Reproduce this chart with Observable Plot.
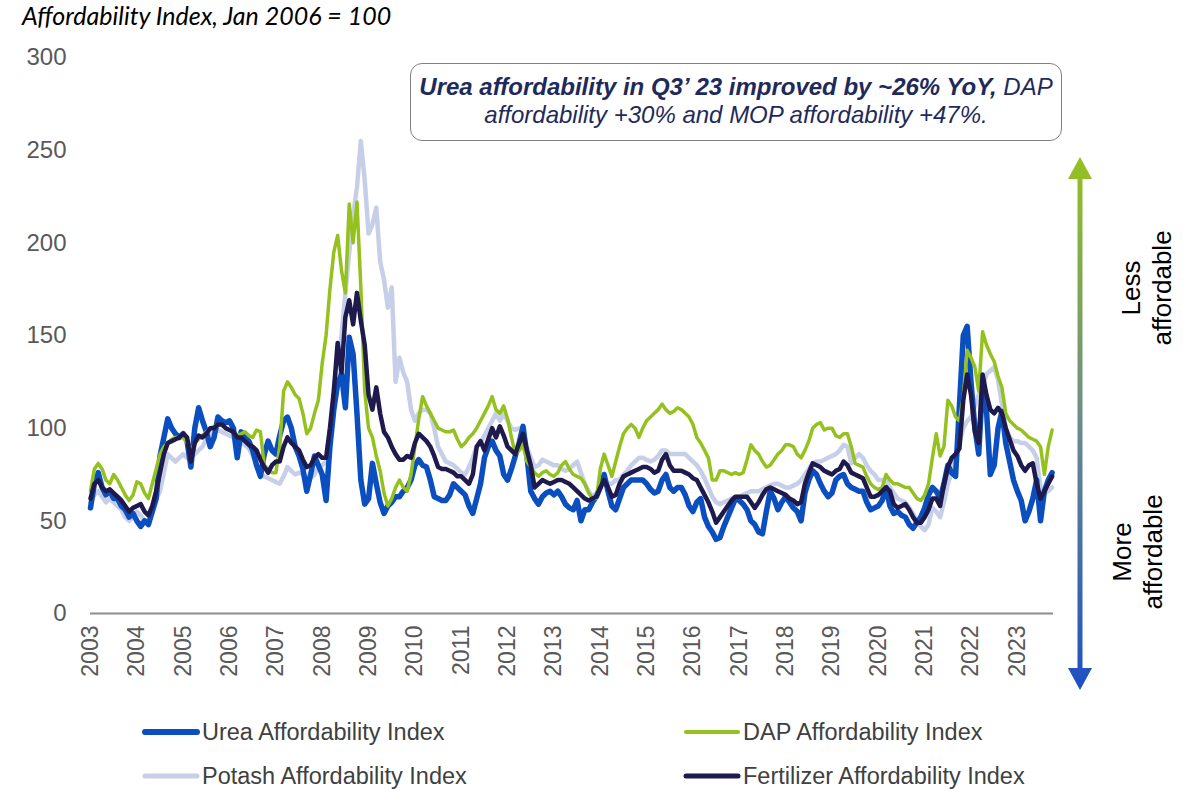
<!DOCTYPE html>
<html>
<head>
<meta charset="utf-8">
<script src="https://cdn.jsdelivr.net/npm/d3@7"></script>
<script src="https://cdn.jsdelivr.net/npm/@observablehq/plot@0.6"></script>
<style>
  html, body { margin: 0; padding: 0; background: #fff; }
  #wrap { position: relative; width: 1197px; height: 791px; overflow: hidden; font-family: "Liberation Sans", Arial, sans-serif; }
  #title { position: absolute; left: 22px; top: 0px; font-family: Lato, "Open Sans", sans-serif; font-style: italic; font-size: 25px; color: #000; white-space: nowrap; }
  #chart { position: absolute; left: 0; top: 0; }
  #note { position: absolute; left: 410px; top: 63px; width: 652px; height: 78px; border: 1.5px solid #7f7f7f; border-radius: 12px; box-sizing: border-box;
          text-align: center; font-style: italic; font-size: 24px; line-height: 28px; color: #1f2a5c; padding-top: 9px; white-space: nowrap; }
  #note b { font-weight: bold; }
</style>
</head>
<body>
<div id="wrap">
  <div id="chart"></div>
  <div id="title">Affordability Index, Jan 2006 = 100</div>
  <div id="note"><b>Urea affordability in Q3’ 23 improved by ~26% YoY,</b> DAP<br>affordability +30% and MOP affordability +47%.</div>
</div>
<script>
// Monthly values, Jan 2003 .. Oct 2023
const startYear = 2003;
const years = d3.range(2003, 2024);
const yTicks = [0, 50, 100, 150, 200, 250, 300];

const urea = [
  57, 70, 76, 68, 64, 66, 62, 62, 58, 56, 52, 54,
  50, 47, 50, 48, 55, 62, 85, 95, 105, 100, 97, 95,
  97, 93, 79, 100, 111, 104, 98, 90, 95, 106, 104, 103,
  104, 100, 84, 98, 95, 93, 88, 80, 74, 86, 93, 88,
  86, 96, 104, 106, 100, 90, 85, 78, 66, 75, 85, 80,
  75, 61, 90, 110, 124, 129, 111, 149, 140, 108, 72, 59,
  62, 81, 70, 60, 54, 58, 60, 63, 63, 66, 68, 72,
  80, 83, 80, 79, 72, 63, 62, 61, 61, 64, 70, 68,
  66, 64, 58, 54, 62, 70, 84, 90, 93, 88, 85, 75,
  72, 78, 85, 92, 101, 85, 66, 62, 59, 63, 65, 66,
  64, 66, 63, 59, 57, 56, 61, 50, 56, 56, 60, 63,
  68, 75, 66, 58, 56, 62, 68, 70, 72, 72, 72, 72,
  70, 67, 65, 66, 72, 75, 68, 66, 68, 68, 64, 58,
  55, 60, 62, 52, 47, 44, 40, 41, 47, 52, 57, 62,
  61, 59, 56, 50, 48, 44, 43, 55, 66, 62, 56, 60,
  63, 60, 57, 55, 50, 65, 72, 77, 75, 70, 66, 63,
  65, 72, 74, 75, 70, 68, 67, 66, 66, 60, 56, 57,
  58, 61, 68, 58, 54, 55, 53, 52, 48, 46, 49, 52,
  57, 64, 68, 66, 62, 70, 80, 76, 74, 112, 150, 155,
  125, 100, 86, 124, 110, 75, 80, 100, 109, 92, 82, 72,
  66, 61, 50, 55, 62, 72, 50, 66, 72, 76
];
const dap = [
  66, 78, 81, 78, 72, 70, 75, 72, 68, 64, 61, 64,
  71, 70, 65, 62, 70, 78, 86, 90, 92, 94, 95, 95,
  95, 92, 88, 92, 94, 96, 98, 100, 101, 102, 102, 100,
  99, 98, 96, 97, 98, 96, 95, 99, 98, 80, 78, 76,
  76, 90, 120, 125, 122, 118, 116, 108, 97, 100, 108, 115,
  135, 150, 175, 195, 204, 185, 173, 221, 200, 222, 176, 120,
  100, 95, 85, 77, 65, 58, 62, 68, 72, 68, 66, 75,
  90, 105, 117, 112, 108, 104, 100, 99, 98, 98, 99, 94,
  90, 92, 95, 97, 100, 104, 108, 112, 117, 110, 108, 112,
  105, 95, 86, 88, 91, 82, 79, 76, 74, 76, 77, 75,
  74, 76, 80, 82, 78, 75, 74, 73, 70, 65, 62, 62,
  78, 86, 80, 74, 82, 90, 97, 100, 102, 100, 95, 100,
  104, 106, 108, 110, 113, 110, 108, 109, 111, 110, 108, 106,
  102, 95, 92, 88, 84, 72, 72, 77, 77, 76, 75, 76,
  75, 76, 83, 91, 88, 86, 82, 79, 80, 83, 86, 88,
  91, 91, 90, 86, 84, 88, 93, 100, 102, 103, 99, 100,
  100, 96, 95, 97, 97, 90, 81, 80, 79, 74, 70, 68,
  67, 68, 75, 72, 70, 70, 69, 68, 68, 65, 62, 61,
  64, 70, 84, 97, 85, 90, 115, 112, 106, 104, 117, 142,
  138, 133, 120, 152, 145, 140, 136, 128, 122, 108, 104, 102,
  100, 99, 97, 95, 94, 93, 90, 75, 90, 99
];
const potash = [
  60, 64, 66, 63, 60, 62, 60, 58, 56, 52, 50, 52,
  55, 53, 50, 50, 54, 62, 66, 76, 86, 84, 82, 84,
  86, 84, 85, 86, 88, 90, 94, 96, 98, 99, 98, 97,
  96, 95, 94, 92, 91, 89, 85, 80, 76, 74, 73, 72,
  71, 70, 74, 79, 77, 75, 76, 75, 74, 73, 75, 79,
  80, 82, 100, 110, 130, 150, 173, 195, 215, 230, 255, 234,
  205, 210, 219, 190, 180, 165, 176, 125, 138, 130, 125, 110,
  104, 108, 110, 110, 108, 100, 90, 86, 82, 81, 80, 78,
  76, 75, 79, 84, 90, 92, 96, 100, 104, 108, 104, 108,
  104, 100, 99, 100, 99, 90, 84, 79, 80, 83, 82, 81,
  80, 80, 78, 77, 78, 80, 82, 76, 70, 66, 63, 65,
  68, 70, 70, 70, 72, 72, 75, 77, 80, 82, 84, 84,
  83, 82, 83, 85, 88, 88, 86, 86, 86, 86, 86, 84,
  82, 80, 77, 73, 68, 63, 60, 59, 60, 61, 62, 63,
  63, 64, 65, 66, 66, 66, 67, 68, 69, 70, 70, 69,
  68, 68, 69, 70, 72, 75, 78, 81, 82, 82, 83, 84,
  85, 86, 88, 91, 90, 81, 84, 86, 84, 80, 77, 75,
  72, 72, 72, 68, 65, 62, 61, 60, 57, 54, 50, 47,
  45, 48, 57, 55, 52, 60, 70, 76, 84, 92, 100, 104,
  106, 112, 118, 122, 129, 131, 133, 126, 113, 100, 95, 93,
  93, 92, 92, 90, 88, 84, 68, 65, 66, 68
];
const fertilizer = [
  62, 70, 72, 68, 66, 67, 65, 63, 61, 58, 55, 57,
  58, 59, 55, 53, 58, 66, 76, 86, 92, 93, 94, 95,
  97, 95, 82, 92, 96, 95, 97, 100, 100, 102, 102, 100,
  99, 98, 95, 95, 93, 91, 90, 88, 83, 79, 76, 80,
  82, 82, 90, 95, 92, 90, 88, 83, 79, 80, 84, 86,
  84, 84, 100, 120, 146, 130, 160, 169, 156, 173, 158, 145,
  118, 110, 122, 108, 98, 95, 90, 86, 83, 83, 85, 84,
  92, 97, 95, 93, 90, 85, 79, 78, 78, 77, 76, 74,
  74, 72, 70, 75, 90, 93, 88, 94, 100, 95, 101, 96,
  90, 88, 86, 92, 97, 88, 80, 68, 70, 72, 71, 70,
  71, 72, 72, 71, 70, 68, 66, 64, 62, 61, 62, 63,
  68, 72, 68, 63, 64, 70, 74, 75, 76, 77, 78, 79,
  79, 78, 76, 77, 83, 86, 80, 77, 77, 77, 76, 75,
  73, 72, 68, 64, 60, 55, 49, 52, 55, 58, 61, 63,
  63, 63, 63, 60, 57, 60, 64, 67, 68, 67, 66, 65,
  64, 62, 61, 59, 60, 70, 76, 81, 80, 79, 77, 76,
  75, 77, 78, 82, 80, 76, 75, 74, 73, 68, 63, 63,
  64, 66, 68, 66, 59, 57, 58, 59, 56, 52, 49, 49,
  52, 56, 62, 62, 58, 70, 79, 84, 86, 89, 115, 129,
  118, 98, 92, 129, 118, 110, 108, 111, 108, 100, 94, 88,
  85, 80, 77, 80, 81, 70, 62, 66, 70, 74
];

const seriesNames = ["Urea Affordability Index", "DAP Affordability Index", "Potash Affordability Index", "Fertilizer Affordability Index"];
const seriesColors = ["#0a4ec0", "#95c11f", "#c7cfe8", "#1f1a4d"];
const seriesWidths = [5.5, 3.5, 4.5, 4.5];
const seriesValues = [urea, dap, potash, fertilizer];
const drawOrder = [2, 0, 1, 3];

function rows(k) {
  return seriesValues[k].map((v, i) => ({t: startYear + i / 12, v}));
}

const chart = Plot.plot({
  width: 1197,
  height: 700,
  marginLeft: 90,
  marginRight: 144,
  marginTop: 57,
  marginBottom: 87,
  style: {fontFamily: "'Liberation Sans', Arial, sans-serif", background: "transparent"},
  x: {type: "linear", domain: [2003, 2023.78]},
  y: {domain: [0, 300]},
  marks: [
    Plot.ruleY([0], {stroke: "#8c8c8c", strokeWidth: 2}),
    ...drawOrder.map(k => Plot.lineY(rows(k), {
      x: "t", y: "v", stroke: seriesColors[k], strokeWidth: seriesWidths[k], strokeLinejoin: "round", curve: "linear"
    })),
    Plot.axisY({ticks: yTicks, tickSize: 0, tickPadding: 24, fontSize: 24, fill: "#595959", label: null}),
    Plot.axisX({ticks: years, tickFormat: d => String(d), tickSize: 0, tickPadding: 12, tickRotate: -90, fontSize: 23, fill: "#595959", label: null})
  ]
});
document.getElementById("chart").appendChild(chart);

// legend + right-side arrow (overlay)
const ov = d3.select("#wrap").append("svg").attr("id", "overlay")
  .attr("width", 1197).attr("height", 791)
  .style("position", "absolute").style("left", "0px").style("top", "0px")
  .style("font-family", "'Liberation Sans', Arial, sans-serif");

const legPos = [[145, 732], [686, 732], [145, 776], [686, 776]];
seriesNames.forEach((name, k) => {
  const [lx, ly] = legPos[k];
  ov.append("line").attr("x1", lx).attr("x2", lx + 52).attr("y1", ly).attr("y2", ly)
    .attr("stroke", seriesColors[k]).attr("stroke-width", seriesWidths[k] + 0.5).attr("stroke-linecap", "round");
  ov.append("text").attr("x", lx + 57).attr("y", ly).attr("dy", "0.35em")
    .attr("font-size", 23.5).attr("fill", "#404040").text(name);
});

const defs = ov.append("defs");
const grad = defs.append("linearGradient").attr("id", "arrowGrad")
  .attr("x1", 0).attr("y1", 0).attr("x2", 0).attr("y2", 1);
grad.append("stop").attr("offset", "0%").attr("stop-color", "#95c11f");
grad.append("stop").attr("offset", "50%").attr("stop-color", "#6a8c8c");
grad.append("stop").attr("offset", "100%").attr("stop-color", "#1d4fc4");
const ax = 1080, aTop = 157, aBot = 690, hw = 12, hh = 22, sw = 2.5;
ov.append("path")
  .attr("d", `M${ax},${aTop} L${ax + hw},${aTop + hh} L${ax + sw},${aTop + hh} L${ax + sw},${aBot - hh} L${ax + hw},${aBot - hh} L${ax},${aBot} L${ax - hw},${aBot - hh} L${ax - sw},${aBot - hh} L${ax - sw},${aTop + hh} L${ax - hw},${aTop + hh} Z`)
  .attr("fill", "url(#arrowGrad)");

function vlabel(cx, cy, lines) {
  const g = ov.append("g").attr("transform", `translate(${cx},${cy}) rotate(-90)`);
  lines.forEach((s, i) => {
    g.append("text").attr("x", 0).attr("y", (i - (lines.length - 1) / 2) * 31).attr("dy", "0.35em")
      .attr("text-anchor", "middle").attr("font-size", 26).attr("fill", "#000").text(s);
  });
}
vlabel(1146, 288, ["Less", "affordable"]);
vlabel(1137, 552, ["More", "affordable"]);
</script>
</body>
</html>
